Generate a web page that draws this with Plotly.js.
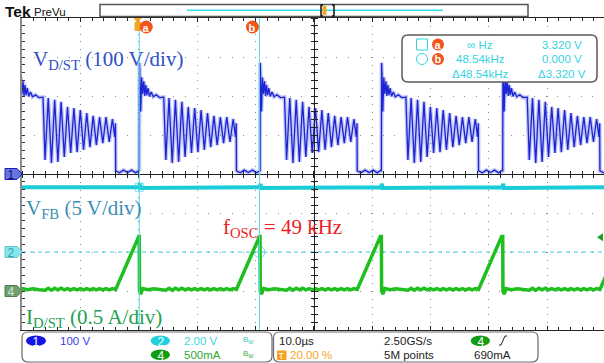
<!DOCTYPE html>
<html><head><meta charset="utf-8">
<script src="https://cdn.plot.ly/plotly-3.0.1.min.js"></script>
<style>html,body{margin:0;padding:0;background:#fff;overflow:hidden}#chart{width:604px;height:363px}</style>
</head><body><div id="chart"></div>
<script>
// ---------------- data ----------------
// turn-off instants of the switch (µs on the 10 µs/div time base)
const turnOffTimes = [-0.6, 20.1, 40.8, 61.6, 82.4];
// one switching period of V_D/ST (time after turn-off in µs, volts)
const vdsRelT = [0, 0.04, 0.12, 0.25, 0.42, 0.6, 0.78, 0.95, 1.12, 1.3, 1.5, 1.75, 2.05, 2.4, 2.9, 3.5, 4.2,
  4.55, 5.1, 5.65, 6.2, 6.75, 7.3, 7.85, 8.4, 8.95, 9.5, 10.05, 10.6, 11.15, 11.7, 12.25, 12.8, 13.35, 13.9, 14.45, 15.0, 15.55, 16.1, 16.5, 16.62,
  16.66, 17.3, 18.0, 18.7, 19.4, 20.1, 20.62];
const vdsVolts = [8, 285, 250, 160, 248, 205, 238, 200, 228, 202, 220, 199, 210, 198, 203, 196, 197,
  36, 195, 28, 190, 31, 185, 44, 172, 54, 169, 56, 164, 62, 156, 69, 149, 74, 146, 79, 146, 82, 141, 95, 130,
  8, 3, 10, 4, 10, 3, 9];
// one switching period of I_D/ST (time after turn-off in µs, amps)
const idRelT = [0, 0.04, 0.25, 0.6, 1.5, 2.5, 3.5,
  4.55, 5.1, 5.65, 6.2, 6.75, 7.3, 7.85, 8.4, 8.95, 9.5, 10.05, 10.6, 11.15, 11.7, 12.25, 12.8, 13.35, 13.9, 14.45, 15.0, 15.55, 16.1,
  16.66, 20.62];
const idAmps = [0.70, 0.0, -0.04, 0.03, 0.015, 0.03, 0.015,
  0.01, 0.035, 0.01, 0.035, 0.015, 0.035, 0.015, 0.03, 0.015, 0.03, 0.015, 0.03, 0.015, 0.03, 0.015, 0.03, 0.015, 0.03, 0.015, 0.03, 0.015, 0.03,
  0.02, 0.70];
// V_FB (µs, volts)
const vfbT = [0, 20.1, 20.16, 20.3, 40.8, 40.86, 41.0, 61.6, 61.66, 61.8, 82.4, 82.46, 82.6, 99.76];
const vfbVolts = [3.32, 3.32, 3.5, 3.28, 3.32, 3.5, 3.28, 3.32, 3.5, 3.28, 3.32, 3.5, 3.28, 3.32];
// cursors a / b
const cursorTimes = [20.1, 40.7];
const cursorVfb = [3.32, 0.0];
const cursorNames = ['a', 'b'];
const trigTime = 19.8;
const trigLevel = 0.69;
// readout / status texts
const readoutLeft = ['∞ Hz', '48.54kHz', 'Δ48.54kHz'];
const readoutRight = ['3.320 V', '0.000 V', 'Δ3.320 V'];

// ---------------- build traces ----------------
function buildPeriodic(offsets, relT, vals) {
  const xs = [], ys = [];
  offsets.forEach(o => { relT.forEach((t, i) => { xs.push(o + t); ys.push(vals[i]); }); });
  return [xs, ys];
}
const [ch1X, ch1Y] = buildPeriodic(turnOffTimes, vdsRelT, vdsVolts);
const [ch4X, ch4Y] = buildPeriodic(turnOffTimes, idRelT, idAmps);

const XR = [0, 99.76];
const traces = [
  {x: ch1X, y: ch1Y, xaxis: 'x', yaxis: 'y', mode: 'lines', line: {color: 'rgba(120,130,235,0.45)', width: 4}},
  {x: ch1X, y: ch1Y, xaxis: 'x', yaxis: 'y', mode: 'lines', line: {color: '#1c24d4', width: 1.3}},
  {x: vfbT, y: vfbVolts, xaxis: 'x', yaxis: 'y2', mode: 'lines', line: {color: '#19cdd8', width: 4}},
  {x: ch4X, y: ch4Y, xaxis: 'x', yaxis: 'y3', mode: 'lines', line: {color: '#1fbf1f', width: 3.5}},
  {x: cursorTimes, y: cursorVfb, xaxis: 'x', yaxis: 'y2', mode: 'markers',
   marker: {symbol: ['square-open', 'circle-open'], size: [8, 11], color: '#35d3df', line: {width: 1}}},
  {x: [null], y: [null], xaxis: 'x2', yaxis: 'y', mode: 'lines'},
  {x: [null], y: [null], xaxis: 'x3', yaxis: 'y', mode: 'lines'},
  {x: [null], y: [null], xaxis: 'x', yaxis: 'y4', mode: 'lines'},
  {x: [null], y: [null], xaxis: 'x', yaxis: 'y5', mode: 'lines'}
];
traces.forEach(t => { t.showlegend = false; t.hoverinfo = 'skip'; });

// ---------------- pixel helpers for decorations ----------------
const L = 22, R = 604, T = 18, B = 330;
const P = px => (px - L) / (R - L);
const Q = py => (B - py) / (B - T);
function rrect(x0, y0, x1, y1, r) {
  const rx = r / (R - L), ry = r / (B - T);
  const a = P(x0), b = P(x1), c = Q(y0), d = Q(y1);
  return `M${a + rx},${c} L${b - rx},${c} Q${b},${c} ${b},${c - ry} L${b},${d + ry} Q${b},${d} ${b - rx},${d} L${a + rx},${d} Q${a},${d} ${a},${d + ry} L${a},${c - ry} Q${a},${c} ${a + rx},${c} Z`;
}
const UI = 'Liberation Sans, Arial, sans-serif';
const SERIF = 'Liberation Serif, Times New Roman, serif';
function txt(text, px, py, size, color, anchor, family, extra) {
  return Object.assign({text, xref: 'paper', yref: 'paper', x: P(px), y: Q(py), xanchor: anchor || 'left', yanchor: 'middle',
    showarrow: false, borderpad: 0, font: {size, color, family: family || UI}}, extra || {});
}
const boxed = {width: 12, height: 13, align: 'center', valign: 'middle'};
function pRect(x0, y0, x1, y1, fill, line, lw, type, layer) {
  return {type: type || 'rect', xref: 'paper', yref: 'paper', x0: P(x0), x1: P(x1), y0: Q(y1), y1: Q(y0),
    fillcolor: fill || 'rgba(0,0,0,0)', line: {color: line || 'rgba(0,0,0,0)', width: lw || 0}, layer: layer || 'above'};
}
function pLine(x0, y0, x1, y1, color, w, dash) {
  return {type: 'line', xref: 'paper', yref: 'paper', x0: P(x0), x1: P(x1), y0: Q(y0), y1: Q(y1), line: {color, width: w, dash: dash || 'solid'}, layer: 'above'};
}

const shapes = [];
const annotations = [];
// ch2 reference (dashed)
shapes.push({type: 'line', xref: 'paper', x0: 0, x1: 1, yref: 'y2', y0: 0, y1: 0, line: {color: '#30d0e0', width: 1, dash: '4px,4px'}, layer: 'below'});
// cursor lines and labels
cursorTimes.forEach((ct, i) => {
  shapes.push({type: 'line', xref: 'x', x0: ct, x1: ct, yref: 'paper', y0: 0, y1: 1, line: {color: '#55d8e6', width: 1}, layer: 'above'});
});
// trigger position marker (orange)
shapes.push({type: 'path', xref: 'x', xsizemode: 'pixel', xanchor: trigTime, yref: 'paper',
  path: `M-4,${Q(18)} L4,${Q(18)} L0,${Q(23)} Z`, fillcolor: '#f5a623', line: {width: 0}, layer: 'above'});
shapes.push({type: 'rect', xref: 'x', xsizemode: 'pixel', xanchor: trigTime, x0: -3, x1: 4, yref: 'paper', y0: Q(31), y1: Q(22),
  fillcolor: '#f5a623', line: {width: 0}, layer: 'above'});
const cursorOffsets = [7, -7];
cursorTimes.forEach((ct, i) => {
  shapes.push({type: 'circle', xref: 'x', xsizemode: 'pixel', xanchor: ct, x0: cursorOffsets[i] - 6.5, x1: cursorOffsets[i] + 6.5,
    yref: 'paper', y0: Q(33.5), y1: Q(20.5), fillcolor: '#f0561e', line: {width: 0}, layer: 'above'});
  annotations.push(Object.assign({text: '<b>' + cursorNames[i] + '</b>', xref: 'x', x: ct, xshift: cursorOffsets[i], yref: 'paper', y: Q(27),
    xanchor: 'center', yanchor: 'middle', showarrow: false, borderpad: 0, font: {size: 11, color: '#fff', family: UI}}, boxed));
});
// channel level markers
const chMarkers = [
  {yref: 'y', level: 0, fill: '#6474e0', line: '#1a1ab4', label: '1', tc: '#10106a'},
  {yref: 'y2', level: 0, fill: '#84e6ee', line: '#5cc8d4', label: '2', tc: '#3f9fb0'},
  {yref: 'y3', level: 0, fill: '#6f9f6f', line: '#4f7f4f', label: '4', tc: '#cfe6cf'}
];
chMarkers.forEach(m => {
  shapes.push({type: 'path', xref: 'paper', xsizemode: 'pixel', xanchor: 0, yref: m.yref, ysizemode: 'pixel', yanchor: m.level,
    path: 'M-17,-5.5 L-5,-5.5 L0,0 L-5,5.5 L-17,5.5 Z', fillcolor: m.fill, line: {color: m.line, width: 1}, layer: 'above'});
  annotations.push(Object.assign({text: m.label, xref: 'paper', x: P(11), yref: m.yref, y: m.level, xanchor: 'center', yanchor: 'middle',
    showarrow: false, borderpad: 0, font: {size: 12, color: m.tc, family: UI}}, boxed));
});
// trigger level marker on the right
shapes.push({type: 'path', xref: 'paper', xsizemode: 'pixel', xanchor: 1, yref: 'y3', ysizemode: 'pixel', yanchor: trigLevel,
  path: 'M-7,0 L-1,4 L-1,-4 Z', fillcolor: '#1f9f1f', line: {width: 0}, layer: 'above'});

// header: Tek PreVu + record view
annotations.push(txt('<b>Tek</b>', 4, 11, 15.5, '#111'));
annotations.push(txt('PreVu', 33, 11.5, 11.5, '#111'));
shapes.push(pRect(100, 4.5, 528, 16.5, '#fff', '#555', 1.5));
shapes.push(pLine(187, 10.3, 443, 10.3, '#30e0f0', 1.5));
shapes.push(pRect(322.5, 6, 326.5, 15, '#f5a623', null, 0));
shapes.push({type: 'path', xref: 'paper', yref: 'paper', path: `M${P(323)},${Q(5)} L${P(321)},${Q(5)} L${P(321)},${Q(16)} L${P(323)},${Q(16)}`, line: {color: '#111', width: 1.5}, layer: 'above'});
shapes.push({type: 'path', xref: 'paper', yref: 'paper', path: `M${P(332)},${Q(5)} L${P(334)},${Q(5)} L${P(334)},${Q(16)} L${P(332)},${Q(16)}`, line: {color: '#111', width: 1.5}, layer: 'above'});

// cursor readout box
shapes.push({type: 'path', xref: 'paper', yref: 'paper', path: rrect(402, 35, 597, 82, 6), fillcolor: '#fff', line: {color: '#5a5a5a', width: 1.5}, layer: 'above'});
shapes.push(pRect(416.5, 39, 427.5, 50, null, '#35d3df', 1));
shapes.push(pRect(416.5, 53.5, 427.5, 64.5, null, '#35d3df', 1, 'circle'));
shapes.push(pRect(432, 38.5, 444, 50.5, '#f0561e', null, 0, 'circle'));
shapes.push(pRect(432, 53, 444, 65, '#f0561e', null, 0, 'circle'));
annotations.push(txt('<b>a</b>', 438, 44.5, 11, '#fff', 'center', UI, boxed));
annotations.push(txt('<b>b</b>', 438, 59, 11, '#fff', 'center', UI, boxed));
const rowY = [44.5, 59, 74];
readoutLeft.forEach((s, i) => annotations.push(txt(s, 480, rowY[i], 11.5, '#35d3df', 'center')));
readoutRight.forEach((s, i) => annotations.push(txt(s, 562, rowY[i], 11.5, '#35d3df', 'center')));

// waveform labels
annotations.push(txt('V<sub>D/ST</sub> (100 V/div)', 32, 60, 21, '#3050c8', 'left', SERIF));
annotations.push(txt('V<sub>FB</sub> (5 V/div)', 25, 209, 21, '#3c8fb4', 'left', SERIF));
annotations.push(txt('f<sub>OSC</sub> = 49 kHz', 222, 228, 21, '#ee1c24', 'left', SERIF));
annotations.push(txt('I<sub>D/ST</sub> (0.5 A/div)', 25, 318, 21, '#22a04f', 'left', SERIF));

// status boxes
shapes.push({type: 'path', xref: 'paper', yref: 'paper', path: rrect(22, 332, 272, 362, 6), fillcolor: '#fff', line: {color: '#6a6a6a', width: 1.2}, layer: 'above'});
shapes.push({type: 'path', xref: 'paper', yref: 'paper', path: rrect(273.5, 332, 538, 362, 6), fillcolor: '#fff', line: {color: '#6a6a6a', width: 1.2}, layer: 'above'});
shapes.push(pRect(26, 335.5, 46, 346, '#1414e6', null, 0, 'circle'));
shapes.push(pRect(150.7, 335.5, 170, 346, '#22d0dc', null, 0, 'circle'));
shapes.push(pRect(150.7, 349.5, 170, 360, '#119d11', null, 0, 'circle'));
shapes.push(pRect(470.7, 335.5, 490, 346, '#119d11', null, 0, 'circle'));
shapes.push(pRect(277, 350.5, 286.5, 360, '#f5a020', null, 0));
shapes.push({type: 'path', xref: 'paper', yref: 'paper', path: `M${P(499)},${Q(345)} L${P(501)},${Q(345)} L${P(505)},${Q(336)} L${P(507)},${Q(336)}`, line: {color: '#222', width: 1}, layer: 'above'});
annotations.push(txt('1', 36, 341, 12, '#fff', 'center', UI, boxed));
annotations.push(txt('2', 160.5, 341, 12, '#fff', 'center', UI, boxed));
annotations.push(txt('4', 160.5, 355, 12, '#fff', 'center', UI, boxed));
annotations.push(txt('4', 480.5, 341, 12, '#fff', 'center', UI, boxed));
annotations.push(txt('T', 281.8, 355.5, 9, '#fff', 'center', UI, {width: 9, height: 10, align: 'center', valign: 'middle'}));
annotations.push(txt('100 V', 59, 341, 11.5, '#3c3cec'));
annotations.push(txt('2.00 V', 183, 341, 11.5, '#3fd6e0'));
annotations.push(txt('500mA', 183, 355, 11.5, '#2fa82f'));
annotations.push(txt('B<sub>W</sub>', 242, 340, 8, '#3cc8b0'));
annotations.push(txt('B<sub>W</sub>', 242, 354, 8, '#3cb03c'));
annotations.push(txt('10.0µs', 278, 341, 11.5, '#222'));
annotations.push(txt('20.00 %', 289, 355, 11.5, '#f5a623'));
annotations.push(txt('2.50GS/s', 383, 341, 11.5, '#222'));
annotations.push(txt('5M points', 383, 355, 11.5, '#222'));
annotations.push(txt('690mA', 473, 355, 11.5, '#222'));

// ---------------- axes ----------------
const noLbl = {showticklabels: false, zeroline: false, fixedrange: true};
const layout = {
  width: 604, height: 363,
  margin: {l: L, r: 604 - R, t: T, b: 363 - B, pad: 0},
  paper_bgcolor: '#fff', plot_bgcolor: '#fff',
  showlegend: false, hovermode: false,
  xaxis: Object.assign({range: XR, dtick: 10, tick0: 0, showgrid: true, gridcolor: '#8c8c8c', griddash: '1px,6.8px', gridwidth: 1,
    showline: true, linecolor: '#222', linewidth: 1, mirror: 'ticks', ticks: 'inside', ticklen: 4, tickcolor: '#222',
    minor: {dtick: 2, tick0: 0, ticks: 'inside', ticklen: 3, tickcolor: '#222', showgrid: false}}, noLbl),
  xaxis2: Object.assign({overlaying: 'x', range: XR, anchor: 'free', position: 0.5, side: 'bottom', showgrid: false, showline: true,
    linecolor: '#222', linewidth: 1, ticks: 'outside', ticklen: 3, dtick: 2, tick0: 0, tickcolor: '#222'}, noLbl),
  xaxis3: Object.assign({overlaying: 'x', range: XR, anchor: 'free', position: 0.5, side: 'top', showgrid: false, showline: false,
    ticks: 'outside', ticklen: 3, dtick: 2, tick0: 0, tickcolor: '#222'}, noLbl),
  yaxis: Object.assign({range: [-400, 400], dtick: 100, tick0: 0, showgrid: true, gridcolor: '#8c8c8c', griddash: '1px,10.64px', gridwidth: 1,
    showline: true, linecolor: '#8a8a8a', linewidth: 2, ticks: 'inside', ticklen: 3, tickcolor: '#333',
    minor: {dtick: 20, tick0: 0, ticks: 'inside', ticklen: 3, tickcolor: '#333', showgrid: false}}, noLbl),
  yaxis2: Object.assign({overlaying: 'y', range: [-4, 12], visible: false}, noLbl),
  yaxis3: Object.assign({overlaying: 'y', range: [-0.5, 3.5], visible: false}, noLbl),
  yaxis4: Object.assign({overlaying: 'y', range: [-400, 400], anchor: 'free', position: 50 / XR[1], side: 'left', showgrid: false,
    showline: true, linecolor: '#222', linewidth: 1, ticks: 'outside', ticklen: 3, dtick: 20, tick0: 0, tickcolor: '#222'}, noLbl),
  yaxis5: Object.assign({overlaying: 'y', range: [-400, 400], anchor: 'free', position: 50 / XR[1], side: 'right', showgrid: false,
    showline: false, ticks: 'outside', ticklen: 3, dtick: 20, tick0: 0, tickcolor: '#222'}, noLbl),
  shapes, annotations
};
Plotly.newPlot('chart', traces, layout, {staticPlot: true, displayModeBar: false});
</script></body></html>
